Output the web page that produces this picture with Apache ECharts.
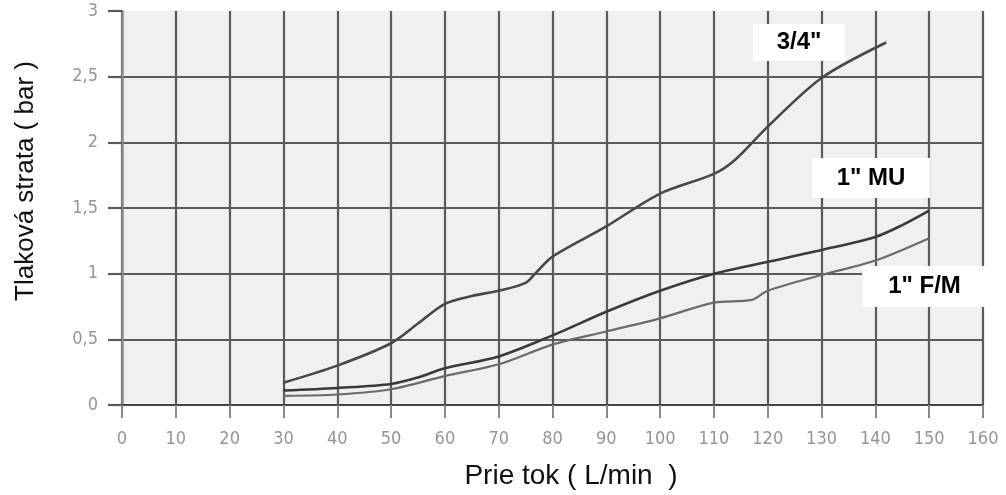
<!DOCTYPE html>
<html>
<head>
<meta charset="utf-8">
<script src="https://cdn.jsdelivr.net/npm/echarts@6/dist/echarts.min.js"></script>
<style>
html,body{margin:0;padding:0;background:#fff;}
#chart{width:1006px;height:495px;}
</style>
</head>
<body>
<div id="chart"></div>
<script>
// ---- data ----
const xTicks = [0,10,20,30,40,50,60,70,80,90,100,110,120,130,140,150,160];
const yTicks = [0,0.5,1,1.5,2,2.5,3];

const seriesNames = ['3/4"', '1" MU', '1" F/M'];

const flow34 = [30,40,50,55,60,65,70,75,77,80,90,100,110,114,120,130,142];
const loss34 = [0.17,0.30,0.47,0.62,0.77,0.83,0.87,0.93,1.01,1.13,1.36,1.61,1.76,1.87,2.12,2.49,2.76];

const flowMU = [30,40,50,55,60,70,80,90,100,110,120,130,140,145,150];
const lossMU = [0.11,0.13,0.16,0.21,0.28,0.37,0.53,0.71,0.87,1.00,1.09,1.18,1.28,1.37,1.48];

const flowFM = [30,40,50,60,70,80,90,100,110,117,120,130,140,150];
const lossFM = [0.07,0.08,0.12,0.22,0.31,0.46,0.56,0.66,0.78,0.80,0.87,0.99,1.10,1.27];

const xTitle = 'Prie tok ( L/min  )';
const yTitle = 'Tlaková strata ( bar )';

// ---- chart ----
const pair = (xs, ys) => xs.map((x, i) => [x, ys[i]]);
const gridColor = '#5a5a5a';
const labelColor = '#959595';
const tickFont = '"Liberation Sans Narrow", "DejaVu Sans Condensed", sans-serif';
const fmt = v => String(v).replace('.', ',');

const chart = echarts.init(document.getElementById('chart'), null, {renderer: 'canvas'});

function labelBox(x, y, w, h, text) {
  return {
    type: 'group', left: x, top: y, z: 100,
    children: [
      {type: 'rect', z: 100, shape: {x: 0, y: 0, width: w, height: h}, style: {fill: '#ffffff'}},
      {type: 'text', z: 101, x: w / 2, y: h / 2,
       style: {text: text, fill: '#000', font: 'bold 24px "Liberation Sans", Arial, sans-serif',
               align: 'center', verticalAlign: 'middle'}}
    ]
  };
}

const lineStyle = {color: '#474747', width: 2.6};

chart.setOption({
  animation: false,
  backgroundColor: '#ffffff',
  grid: {left: 122, right: 23, top: 11, bottom: 88, show: true,
         backgroundColor: '#f0f0f0', borderWidth: 0},
  xAxis: {
    type: 'value', min: xTicks[0], max: xTicks[xTicks.length - 1], interval: 10,
    name: xTitle, nameLocation: 'middle', nameGap: 57,
    nameTextStyle: {fontFamily: '"Liberation Sans", Arial, sans-serif', fontSize: 28,
                    color: '#111', padding: [0, 0, 0, 37]},
    axisLine: {show: true, onZero: false, lineStyle: {color: '#444', width: 2}},
    axisTick: {show: true, length: 13, lineStyle: {color: '#8a8a8a', width: 2}},
    axisLabel: {color: labelColor, fontSize: 18, margin: 25, fontFamily: tickFont},
    splitLine: {show: true, lineStyle: {color: gridColor, width: 2.2}}
  },
  yAxis: {
    type: 'value', min: yTicks[0], max: yTicks[yTicks.length - 1], interval: 0.5,
    name: yTitle, nameLocation: 'middle', nameGap: 83, nameRotate: 90,
    nameTextStyle: {fontFamily: '"Liberation Sans", Arial, sans-serif', fontSize: 26,
                    color: '#111', padding: [0, 0, 0, 54]},
    axisLine: {show: true, lineStyle: {color: '#8a8a8a', width: 2.5}},
    axisTick: {show: true, length: 14, lineStyle: {color: gridColor, width: 2.2}},
    axisLabel: {color: labelColor, fontSize: 18, margin: 24, formatter: fmt, fontFamily: tickFont},
    splitLine: {show: true, showMaxLine: false, lineStyle: {color: gridColor, width: 2.2}}
  },
  series: [
    {name: seriesNames[0], type: 'line', data: pair(flow34, loss34), smooth: 0.3,
     showSymbol: false, lineStyle: lineStyle, z: 5},
    {name: seriesNames[1], type: 'line', data: pair(flowMU, lossMU), smooth: 0.3,
     showSymbol: false, lineStyle: Object.assign({}, lineStyle, {color: '#3a3a3a'}), z: 5},
    {name: seriesNames[2], type: 'line', data: pair(flowFM, lossFM), smooth: 0.3,
     showSymbol: false, lineStyle: Object.assign({}, lineStyle, {color: '#6a6a6a', width: 2.2}), z: 5}
  ],
  graphic: [
    labelBox(753, 24, 92, 37, seriesNames[0]),
    labelBox(812, 158, 118, 40, seriesNames[1]),
    labelBox(862, 266, 125, 41, seriesNames[2])
  ]
});
</script>
</body>
</html>
